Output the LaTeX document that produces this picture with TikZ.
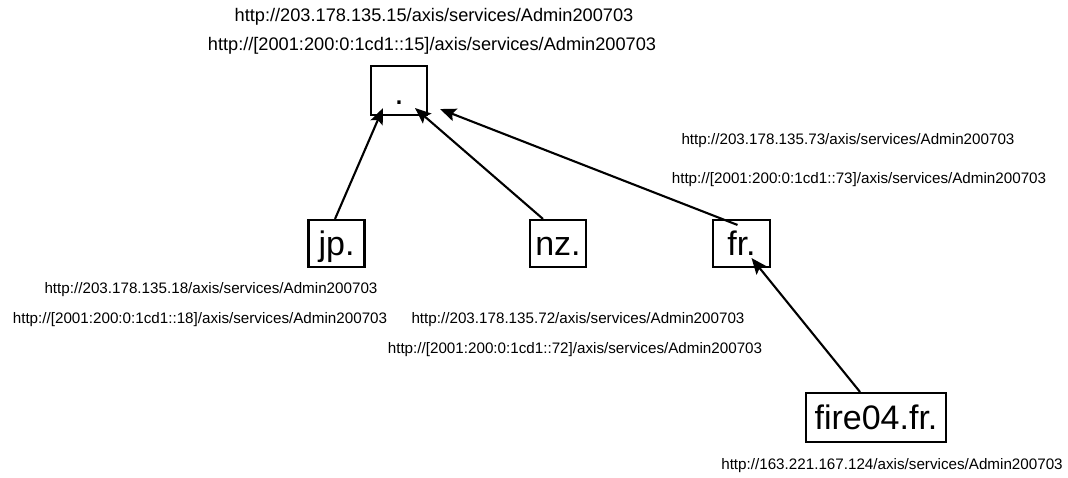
\documentclass[tikz,border=0pt]{standalone}
\usepackage{fontspec}
\setmainfont{Liberation Sans}
\usetikzlibrary{arrows.meta}
\begin{document}
\begin{tikzpicture}[x=1pt,y=-1pt,
  box/.style={draw,line width=2.1pt,font=\fontsize{34}{40}\selectfont,
    text height=27pt,text depth=4pt,inner ysep=8pt,inner xsep=0pt,minimum width=56pt},
  url/.style={font=\fontsize{15.2}{18}\selectfont,inner sep=0pt},
  bigurl/.style={font=\fontsize{18.2}{22}\selectfont,inner sep=0pt},
  arr/.style={line width=2.1pt,-{Stealth[length=16pt,width=13pt,inset=3pt]}}]
\useasboundingbox (0,0) rectangle (1068,477);
\node[box,minimum height=49pt,text height=29pt,text depth=2pt] (root) at (399,90.5) {.};
\node[box,minimum height=47pt] (jp) at (336.5,243.5) {jp.};
\node[box,minimum height=47pt] (nz) at (558,243.5) {nz.};
\node[box,minimum height=47pt,minimum width=57pt] (fr) at (741.5,243.5) {fr.};
\node[box,minimum height=49pt,inner xsep=9pt] (fire) at (876,417.5) {fire04.fr.};
\node[bigurl] (t1) at (434,17) {http://203.178.135.15/axis/services/Admin200703};
\node[bigurl] (t2) at (432,46) {http://[2001:200:0:1cd1::15]/axis/services/Admin200703};
\node[url] (f1) at (848,141) {http://203.178.135.73/axis/services/Admin200703};
\node[url] (f2) at (859,180) {http://[2001:200:0:1cd1::73]/axis/services/Admin200703};
\node[url] (j1) at (211,290) {http://203.178.135.18/axis/services/Admin200703};
\node[url] (j2) at (200,320) {http://[2001:200:0:1cd1::18]/axis/services/Admin200703};
\node[url] (n1) at (578,320) {http://203.178.135.72/axis/services/Admin200703};
\node[url] (n2) at (575,350) {http://[2001:200:0:1cd1::72]/axis/services/Admin200703};
\node[url] (fi1) at (892,466) {http://163.221.167.124/axis/services/Admin200703};
\draw[arr] ([xshift=-1.5pt]jp.north) -- ([xshift=-16pt,yshift=8pt]root.south);
\draw[arr] ([xshift=-15pt]nz.north) -- ([xshift=16pt,yshift=8pt]root.south);
\draw[arr] ([xshift=-4pt,yshift=-6pt]fr.north) -- ([xshift=12pt,yshift=7pt]root.south east);
\draw[arr] ([xshift=-16pt]fire.north) -- ([xshift=10pt,yshift=10pt]fr.south);
\end{tikzpicture}
\end{document}
